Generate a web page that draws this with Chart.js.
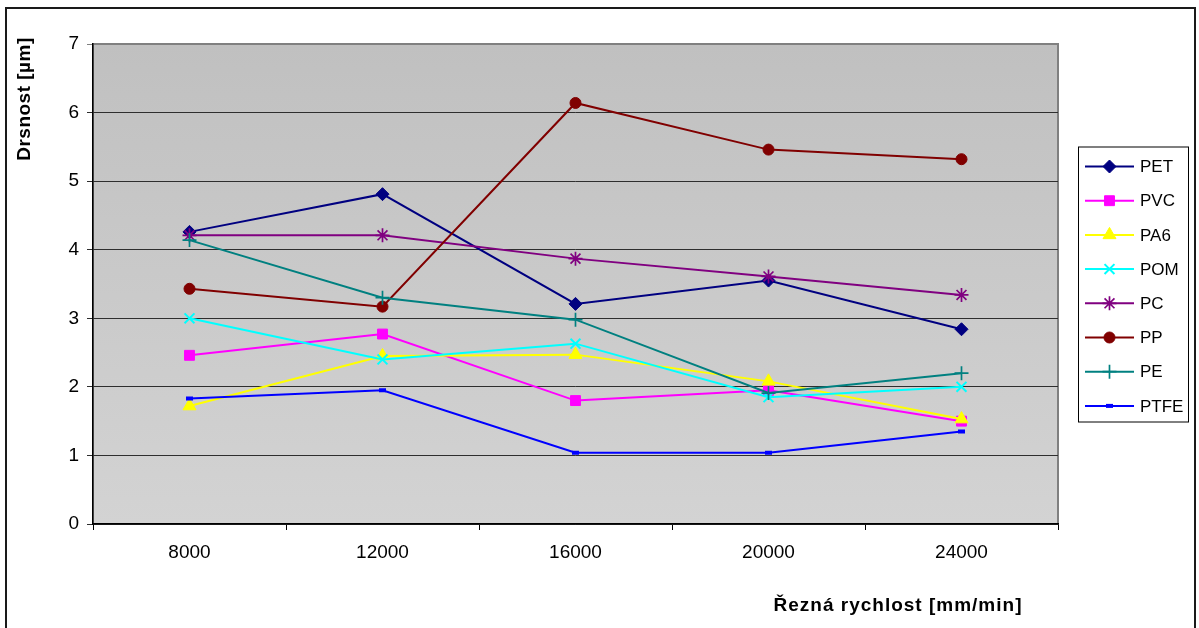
<!DOCTYPE html>
<html>
<head>
<meta charset="utf-8">
<script src="https://cdn.jsdelivr.net/npm/chart.js@4/dist/chart.umd.min.js"></script>
<style>
  html, body { margin: 0; padding: 0; background: #ffffff; }
  #wrap { width: 1199px; height: 628px; }
</style>
</head>
<body>
<div id="wrap"><canvas id="c" width="1199" height="628"></canvas></div>
<script>
// Cutting speed categories [mm/min]
const categories = ['8000', '12000', '16000', '20000', '24000'];
const yTicks = [0, 1, 2, 3, 4, 5, 6, 7];

// Surface roughness per material [µm]
const PET  = [4.26, 4.81, 3.21, 3.55, 2.84];
const PVC  = [2.46, 2.77, 1.80, 1.95, 1.50];
const PA6  = [1.72, 2.45, 2.47, 2.08, 1.53];
const POM  = [3.00, 2.40, 2.63, 1.85, 2.00];
const PC   = [4.21, 4.21, 3.87, 3.61, 3.34];
const PP   = [3.43, 3.17, 6.14, 5.46, 5.32];
const PE   = [4.14, 3.30, 2.98, 1.91, 2.20];
const PTFE = [1.83, 1.95, 1.04, 1.04, 1.35];

const seriesNames = ['PET', 'PVC', 'PA6', 'POM', 'PC', 'PP', 'PE', 'PTFE'];
const seriesData = [PET, PVC, PA6, POM, PC, PP, PE, PTFE];

const FONT = '"Liberation Sans", Arial, sans-serif';

// Line colour and marker look per material
const styles = [
  { color: '#000080', point: 'rectRot',  r: 6.5, bw: 1 },
  { color: '#FF00FF', point: 'rect',     r: 7,   bw: 1 },
  { color: '#FFFF00', point: 'triangle', r: 7.5, bw: 1 },
  { color: '#00FFFF', point: 'crossRot', r: 7,   bw: 2 },
  { color: '#800080', point: 'star',     r: 7,   bw: 1.7 },
  { color: '#800000', point: 'circle',   r: 5.5, bw: 1 },
  { color: '#008080', point: 'cross',    r: 7,   bw: 1.7 },
  { color: '#0000FF', point: 'line',     r: 3.5, bw: 4 }
];

const datasets = seriesNames.map((name, i) => ({
  label: name,
  data: seriesData[i],
  borderColor: styles[i].color,
  backgroundColor: styles[i].color,
  borderWidth: 2,
  pointStyle: styles[i].point,
  pointRadius: styles[i].r,
  pointHoverRadius: styles[i].r,
  pointBorderWidth: styles[i].bw,
  pointBorderColor: styles[i].color,
  pointBackgroundColor: styles[i].color,
  tension: 0,
  order: seriesNames.length - i
}));

// Plot-area fill, outer frame, axis titles and the boxed legend
const decor = {
  id: 'decor',
  beforeDraw(chart) {
    const { ctx, chartArea: a } = chart;
    ctx.save();
    ctx.fillStyle = '#ffffff';
    ctx.fillRect(0, 0, chart.width, chart.height);
    const g = ctx.createLinearGradient(0, a.top, 0, a.bottom);
    g.addColorStop(0, '#C0C0C0');
    g.addColorStop(1, '#D3D3D3');
    ctx.fillStyle = g;
    ctx.fillRect(a.left, a.top, a.right - a.left, a.bottom - a.top);
    ctx.strokeStyle = '#808080';
    ctx.lineWidth = 2;
    ctx.strokeRect(a.left, a.top, a.right - a.left, a.bottom - a.top);
    ctx.restore();
  },
  afterDraw(chart) {
    const { ctx, chartArea: a } = chart;
    const H = Chart.helpers;
    ctx.save();
    // outer frame
    ctx.strokeStyle = '#1a1a1a';
    ctx.lineWidth = 2;
    ctx.strokeRect(6, 8, 1189, 700);

    // axis titles
    ctx.fillStyle = '#000000';
    ctx.font = 'bold 19px ' + FONT;
    ctx.textAlign = 'center';
    ctx.textBaseline = 'middle';
    ctx.letterSpacing = '1px';
    ctx.fillText('Řezná rychlost [mm/min]', 898, 606);
    ctx.letterSpacing = '0.5px';
    ctx.save();
    ctx.translate(25, 99);
    ctx.rotate(-Math.PI / 2);
    ctx.fillText('Drsnost [µm]', 0, 0);
    ctx.restore();
    ctx.letterSpacing = '0px';

    // legend
    const boxW = 110, rowH = 34.2;
    const n = chart.data.datasets.length;
    const boxH = 275;
    const bx = a.right + 20;
    const by = (a.top + a.bottom) / 2 - boxH / 2;
    ctx.fillStyle = '#ffffff';
    ctx.fillRect(bx, by, boxW, boxH);
    ctx.strokeStyle = '#000000';
    ctx.lineWidth = 1;
    ctx.strokeRect(bx + 0.5, by + 0.5, boxW, boxH);
    ctx.font = '17px ' + FONT;
    ctx.textAlign = 'left';
    ctx.textBaseline = 'middle';
    for (let i = 0; i < n; i++) {
      const ds = chart.data.datasets[i];
      const y = by + 20 + i * rowH;
      ctx.strokeStyle = ds.borderColor;
      ctx.lineWidth = 2;
      ctx.beginPath();
      ctx.moveTo(bx + 7, y);
      ctx.lineTo(bx + 56, y);
      ctx.stroke();
      ctx.fillStyle = ds.pointBackgroundColor;
      ctx.strokeStyle = ds.pointBorderColor;
      ctx.lineWidth = ds.pointBorderWidth;
      H.drawPoint(ctx, {
        pointStyle: ds.pointStyle,
        radius: ds.pointRadius,
        rotation: 0,
        borderWidth: ds.pointBorderWidth
      }, bx + 31.5, y);
      ctx.fillStyle = '#000000';
      ctx.fillText(ds.label, bx + 62, y + 1);
    }
    ctx.restore();
  }
};

new Chart(document.getElementById('c'), {
  type: 'line',
  data: { labels: categories, datasets },
  plugins: [decor],
  options: {
    responsive: false,
    devicePixelRatio: 1,
    animation: false,
    layout: { padding: { top: 44, right: 141, left: 0, bottom: 0 } },
    plugins: {
      legend: { display: false },
      tooltip: { enabled: false },
      title: { display: false }
    },
    scales: {
      x: {
        type: 'category',
        offset: true,
        afterFit(s) { s.height = 104; },
        grid: {
          offset: true,
          drawOnChartArea: false,
          drawTicks: true,
          tickLength: 6,
          color: '#000000',
          lineWidth: 1
        },
        border: { display: true, color: '#000000', width: 1.5 },
        ticks: {
          color: '#000000',
          font: { family: FONT, size: 19 },
          padding: 11,
          maxRotation: 0
        }
      },
      y: {
        min: 0,
        max: 7,
        afterFit(s) { s.width = 93; },
        afterBuildTicks(s) { s.ticks = yTicks.map(v => ({ value: v })); },
        grid: {
          drawTicks: true,
          tickLength: 6,
          color: (c) => (c.tick && c.tick.value === 7 ? '#808080' : '#2e2e2e'),
          lineWidth: 1
        },
        border: { display: true, color: '#000000', width: 1.5 },
        ticks: {
          color: '#000000',
          font: { family: FONT, size: 19 },
          padding: 8
        }
      }
    }
  }
});
</script>
</body>
</html>
